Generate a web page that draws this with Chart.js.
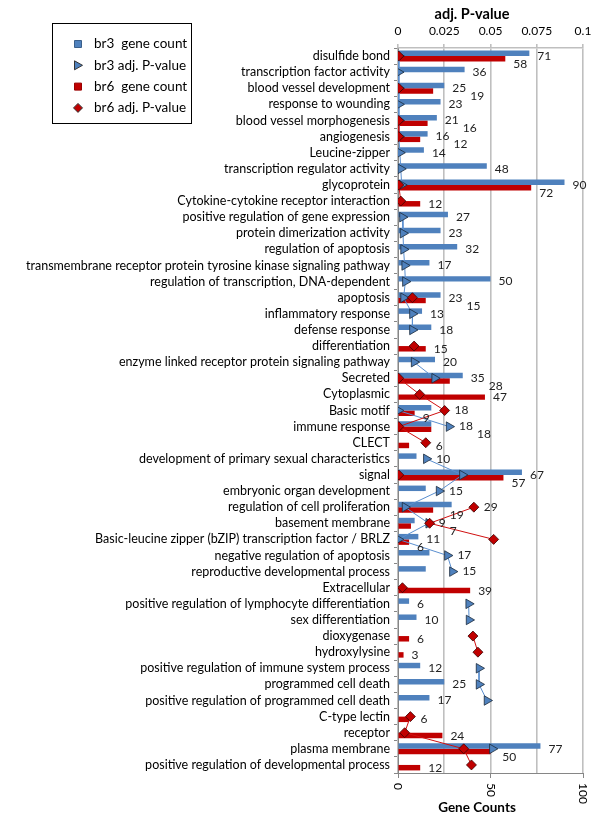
<!DOCTYPE html>
<html>
<head>
<meta charset="utf-8">
<script src="https://cdn.jsdelivr.net/npm/chart.js@4"></script>
<style>
html,body{margin:0;padding:0;background:#fff;}
#wrap{width:600px;height:816px;position:relative;}
</style>
</head>
<body>
<div id="wrap"><canvas id="c" width="600" height="816"></canvas></div>
<script>
const categories = [
  "disulfide bond",
  "transcription factor activity",
  "blood vessel development",
  "response to wounding",
  "blood vessel morphogenesis",
  "angiogenesis",
  "Leucine-zipper",
  "transcription regulator activity",
  "glycoprotein",
  "Cytokine-cytokine receptor interaction",
  "positive regulation of gene expression",
  "protein dimerization activity",
  "regulation of apoptosis",
  "transmembrane receptor protein tyrosine kinase signaling pathway",
  "regulation of transcription, DNA-dependent",
  "apoptosis",
  "inflammatory response",
  "defense response",
  "differentiation",
  "enzyme linked receptor protein signaling pathway",
  "Secreted",
  "Cytoplasmic",
  "Basic motif",
  "immune response",
  "CLECT",
  "development of primary sexual characteristics",
  "signal",
  "embryonic organ development",
  "regulation of cell proliferation",
  "basement membrane",
  "Basic-leucine zipper (bZIP) transcription factor / BRLZ",
  "negative regulation of apoptosis",
  "reproductive developmental process",
  "Extracellular",
  "positive regulation of lymphocyte differentiation",
  "sex differentiation",
  "dioxygenase",
  "hydroxylysine",
  "positive regulation of immune system process",
  "programmed cell death",
  "positive regulation of programmed cell death",
  "C-type lectin",
  "receptor",
  "plasma membrane",
  "positive regulation of developmental process"
];

const br3Count = [71,36,25,23,21,16,14,48,90,null,27,23,32,17,50,23,13,18,null,20,35,null,18,18,null,10,67,15,29,9,11,17,15,null,6,10,null,null,12,25,17,null,null,77,null];
const br6Count = [58,null,19,null,16,12,null,null,72,12,null,null,null,null,null,15,null,null,15,null,28,47,9,18,6,null,57,null,19,7,6,null,null,39,null,null,6,3,null,null,null,6,24,50,12];

const br3P = [0.0005,0.0003,0.0005,0.0005,0.0005,0.0005,0.001,0.0015,0.002,null,0.0024,0.0027,0.003,0.0036,0.004,0.003,0.0078,0.0078,null,0.0087,0.0198,null,0.0002,0.0276,null,0.0153,0.0348,0.0222,0.0038,0.0166,0.0002,0.0267,0.0294,null,0.0382,0.0384,null,null,0.0438,0.0438,0.0481,null,null,0.051,null];
const br6P = [0.0004,null,0.0004,null,0.0004,0.0004,null,null,0.0004,0.0015,null,null,null,null,null,0.0078,null,null,0.0087,null,0.0004,0.0117,0.0252,0.0004,0.015,null,0.0004,null,0.041,0.0171,0.0517,null,null,0.0024,null,null,0.0405,0.0432,null,null,null,0.0067,0.0036,0.0355,0.0397];

const countTicks = [0, 50, 100];
const pTicks = [0, 0.025, 0.05, 0.075, 0.1];

const legendItems = [
  {text: "br3  gene count", kind: "square", color: "#4F81BD"},
  {text: "br3 adj. P-value", kind: "triangle", color: "#4F81BD"},
  {text: "br6  gene count", kind: "square", color: "#C00000"},
  {text: "br6 adj. P-value", kind: "diamond", color: "#C00000"}
];

const FONT = "Lato, 'Open Sans', sans-serif";
const BLUE = "#4F81BD", RED = "#C00000";

const extras = {
  id: 'extras',
  afterDatasetsDraw(chart) {
    const ctx = chart.ctx;
    const ys = chart.scales.y;
    const x2 = chart.scales.x2;
    ctx.save();
    ctx.font = "12px " + FONT;
    ctx.fillStyle = "#222";
    ctx.textAlign = "left";
    ctx.textBaseline = "middle";
    const placed = [];
    [0, 1].forEach(di => {
      const meta = chart.getDatasetMeta(di);
      const arr = di === 0 ? br3Count : br6Count;
      meta.data.forEach((el, i) => {
        const v = arr[i];
        if (v === null || v === undefined) return;
        const cy = ys.getPixelForValue(i);
        let y;
        if (di === 0) y = cy;
        else y = (br3Count[i] !== null) ? cy + 8 : cy + 3;
        const txt = String(v);
        const w = ctx.measureText(txt).width;
        let x = el.x + 8;
        const obstacles = [];
        [br3P[i], br6P[i]].forEach(p => {
          if (p !== null) { const m = x2.getPixelForValue(p); obstacles.push([m - 6, m + 6]); }
        });
        placed.forEach(pl => { if (Math.abs(pl.y - y) < 10) obstacles.push([pl.x0, pl.x1]); });
        for (let k = 0; k < 4; k++) {
          let moved = false;
          obstacles.forEach(o => {
            if (o[1] > x - 1 && o[0] < x + w + 1) { x = o[1] + 4; moved = true; }
          });
          if (!moved) break;
        }
        ctx.fillText(txt, x, y);
        placed.push({x0: x, x1: x + w, y: y});
      });
    });
    ctx.restore();
  },
  afterDraw(chart) {
    const ctx = chart.ctx;
    const xs = chart.scales.x;
    const area = chart.chartArea;
    ctx.save();
    ctx.fillStyle = "#000";
    ctx.textAlign = "center";
    ctx.textBaseline = "middle";
    ctx.font = "bold 14.5px " + FONT;
    ctx.fillText("adj. P-value", 472, 14);
    ctx.font = "bold 13.5px " + FONT;
    ctx.fillText("Gene Counts", 477, 808);
    ctx.font = "12px " + FONT;
    countTicks.forEach(t => {
      const px = xs.getPixelForValue(t);
      ctx.save();
      ctx.translate(px, area.bottom + 10);
      ctx.rotate(Math.PI / 2);
      ctx.textAlign = "left";
      ctx.textBaseline = "middle";
      ctx.fillText(String(t), 0, 0);
      ctx.restore();
    });
    // legend
    ctx.strokeStyle = "#000";
    ctx.lineWidth = 1;
    ctx.strokeRect(52.5, 23.5, 139, 100);
    ctx.font = "13.5px " + FONT;
    ctx.textAlign = "left";
    legendItems.forEach((it, k) => {
      const y = 44 + k * 21.3;
      const mx = 78;
      ctx.fillStyle = it.color;
      ctx.strokeStyle = it.kind === "square" ? "#3a5f8a" : "#333";
      if (it.color === RED && it.kind === "square") ctx.strokeStyle = "#900";
      ctx.beginPath();
      if (it.kind === "square") {
        ctx.rect(mx - 3.5, y - 3.5, 7, 7);
      } else if (it.kind === "triangle") {
        ctx.moveTo(mx - 3.5, y - 4.5);
        ctx.lineTo(mx + 4.5, y);
        ctx.lineTo(mx - 3.5, y + 4.5);
        ctx.closePath();
      } else {
        ctx.moveTo(mx, y - 4.5);
        ctx.lineTo(mx + 4.5, y);
        ctx.lineTo(mx, y + 4.5);
        ctx.lineTo(mx - 4.5, y);
        ctx.closePath();
      }
      ctx.fill();
      ctx.stroke();
      ctx.fillStyle = "#000";
      ctx.textBaseline = "middle";
      ctx.fillText(it.text, 94, y);
    });
    ctx.restore();
  }
};

new Chart(document.getElementById('c'), {
  type: 'bar',
  data: {
    labels: categories,
    datasets: [
      {type: 'bar', label: 'br3  gene count', data: br3Count, backgroundColor: BLUE, xAxisID: 'x', yAxisID: 'y', order: 2, indexAxis: 'y', categoryPercentage: 0.68, barPercentage: 1.0},
      {type: 'bar', label: 'br6  gene count', data: br6Count, backgroundColor: RED, xAxisID: 'x', yAxisID: 'y', order: 3, indexAxis: 'y', categoryPercentage: 0.68, barPercentage: 1.0},
      {type: 'line', label: 'br3 adj. P-value', data: br3P, xAxisID: 'x2', yAxisID: 'y', indexAxis: 'y', order: 1,
        borderColor: "#5B8FCF", borderWidth: 1, backgroundColor: BLUE, pointStyle: 'triangle', pointRotation: 90,
        pointRadius: 5.5, pointBorderColor: "#1a2a3a", pointBorderWidth: 0.8, pointBackgroundColor: BLUE, spanGaps: false, fill: false, tension: 0},
      {type: 'line', label: 'br6 adj. P-value', data: br6P, xAxisID: 'x2', yAxisID: 'y', indexAxis: 'y', order: 0,
        borderColor: "#D01010", borderWidth: 1, backgroundColor: RED, pointStyle: 'rectRot',
        pointRadius: 5, pointBorderColor: "#3a0000", pointBorderWidth: 0.8, pointBackgroundColor: RED, spanGaps: false, fill: false, tension: 0}
    ]
  },
  options: {
    indexAxis: 'y',
    responsive: false,
    animation: false,
    devicePixelRatio: 1,
    layout: {padding: {left: 0, right: 17, top: 0, bottom: 0}},
    plugins: {legend: {display: false}, tooltip: {enabled: false}},
    scales: {
      y: {
        type: 'category',
        position: 'left',
        afterFit(s) { s.width = 398; },
        grid: {drawOnChartArea: false, drawTicks: true, tickLength: 4, color: "#868686", offset: true},
        border: {display: true, color: "#868686", width: 1},
        ticks: {autoSkip: false, padding: 4, color: "#000", font: {family: FONT, size: 12.5}}
      },
      x: {
        type: 'linear',
        position: 'bottom',
        min: 0, max: 100,
        afterFit(s) { s.height = 43; },
        afterBuildTicks(s) { s.ticks = countTicks.map(v => ({value: v})); },
        grid: {drawOnChartArea: false, drawTicks: true, tickLength: 5, color: "#868686"},
        border: {display: true, color: "#868686", width: 1},
        ticks: {display: false}
      },
      x2: {
        type: 'linear',
        position: 'top',
        min: 0, max: 0.1,
        afterFit(s) { s.height = 48; },
        afterBuildTicks(s) { s.ticks = pTicks.map(v => ({value: v})); },
        grid: {drawOnChartArea: true, drawTicks: true, tickLength: 4, color: "#BFBFBF", lineWidth: 1.6},
        border: {display: true, color: "#BFBFBF", width: 1.6},
        ticks: {padding: 6, color: "#000", font: {family: FONT, size: 12}, callback: v => String(v)}
      }
    }
  },
  plugins: [extras]
});
</script>
</body>
</html>
